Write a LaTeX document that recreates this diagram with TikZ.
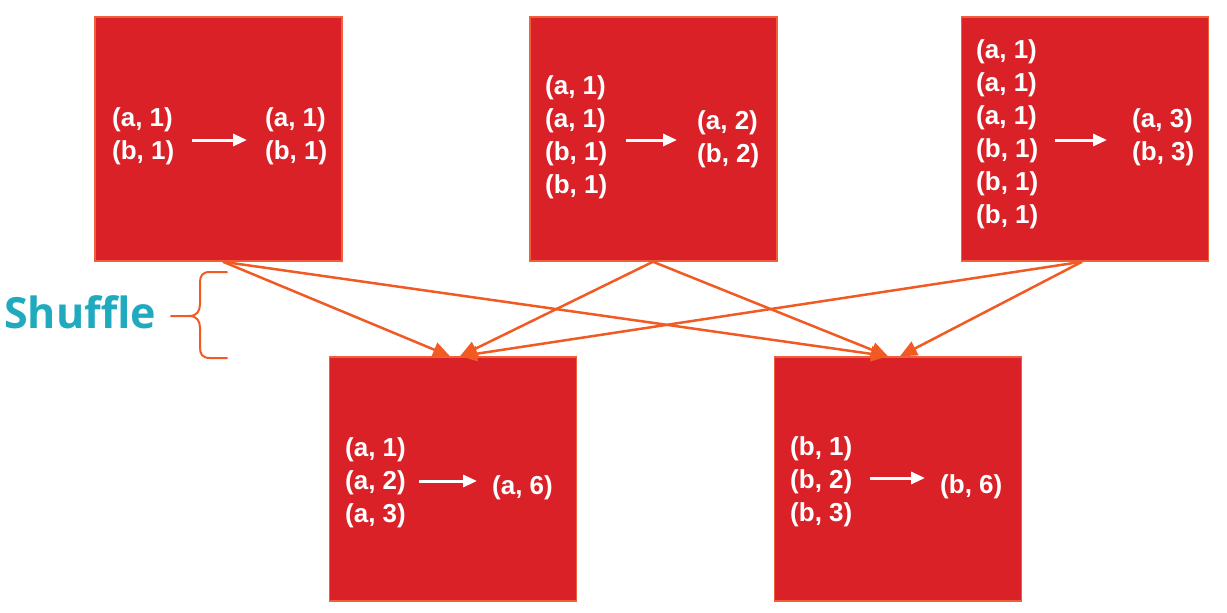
\documentclass[tikz,border=0pt]{standalone}
\usepackage{fontspec}
\setmainfont{Liberation Sans}
\newfontfamily\shufflefont{Open Sans}
\usetikzlibrary{arrows.meta,calc}
\definecolor{boxred}{RGB}{218,33,39}
\definecolor{boxedge}{RGB}{240,95,60}
\definecolor{connorange}{RGB}{242,90,36}
\definecolor{shuffleteal}{RGB}{32,170,190}
\tikzset{
  mapbox/.style={draw=boxedge, line width=1.5pt, fill=boxred, minimum width=247pt, minimum height=244pt, inner sep=0pt},
  pairs/.style={text=white, font=\fontsize{26}{33}\selectfont\bfseries, align=left, inner sep=0pt, anchor=west},
  warrow/.style={draw=white, line width=3pt, -{Triangle[length=14pt,width=12pt]}},
  conn/.style={draw=connorange, line width=2.5pt, -{Triangle[length=17pt,width=15pt]}},
  bracestyle/.style={draw=connorange, line width=2pt, line cap=round, line join=round}
}
\begin{document}
\begin{tikzpicture}[x=1pt,y=-1pt]
\useasboundingbox (0,0) rectangle (1227,613);
% boxes
\node[mapbox] (tl) at (218.5,139) {};
\node[mapbox] (tm) at (653.5,139) {};
\node[mapbox] (tr) at (1085,139) {};
\node[mapbox] (bl) at (453,479) {};
\node[mapbox] (br) at (898,479) {};
% texts
\node[pairs] (tlL) at (112,136) {(a, 1)\\(b, 1)};
\node[pairs] (tlR) at (265,136) {(a, 1)\\(b, 1)};
\node[pairs] (tmL) at (545,137.5) {(a, 1)\\(a, 1)\\(b, 1)\\(b, 1)};
\node[pairs] (tmR) at (697,139) {(a, 2)\\(b, 2)};
\node[pairs] (trL) at (976,134) {(a, 1)\\(a, 1)\\(a, 1)\\(b, 1)\\(b, 1)\\(b, 1)};
\node[pairs] (trR) at (1132,137) {(a, 3)\\(b, 3)};
\node[pairs] (blL) at (345,483) {(a, 1)\\(a, 2)\\(a, 3)};
\node[pairs] (blR) at (492,488) {(a, 6)};
\node[pairs] (brL) at (790,482) {(b, 1)\\(b, 2)\\(b, 3)};
\node[pairs] (brR) at (940,487) {(b, 6)};
% white arrows
\draw[warrow, shorten <=17pt, shorten >=18pt] ($(tlL.east)+(0,4)$) -- ($(tlL.east -| tlR.west)+(0,4)$);
\draw[warrow, shorten <=18pt, shorten >=20pt] ($(tmL.east)+(0,2.5)$) -- ($(tmL.east -| tmR.west)+(0,2.5)$);
\draw[warrow, shorten <=16pt, shorten >=25pt] ($(trL.east)+(0,6)$) -- ($(trL.east -| trR.west)+(0,6)$);
\draw[warrow, shorten <=13pt, shorten >=15pt] ($(blL.east)+(0,-2)$) -- ($(blL.east -| blR.west)+(0,-2)$);
\draw[warrow, shorten <=17pt, shorten >=15pt] ($(brL.east)+(0,-4)$) -- ($(brL.east -| brR.west)+(0,-4)$);
% shuffle connectors
\coordinate (tlS) at ($(tl.south)+(4.5,0)$);
\coordinate (tmS) at ($(tm.south)+(-0.5,0)$);
\coordinate (trS) at ($(tr.south)+(-3,0)$);
\coordinate (blA) at ($(bl.north)+(-3,0)$);
\coordinate (blB) at ($(bl.north)+(7,0)$);
\coordinate (brA) at ($(br.north)+(-10,0)$);
\coordinate (brB) at ($(br.north)+(2,0)$);
\draw[conn] (tlS) -- (blA);
\draw[conn] (tlS) -- (brA);
\draw[conn] (tmS) -- (blB);
\draw[conn] (tmS) -- (brA);
\draw[conn] (trS) -- (blB);
\draw[conn] (trS) -- (brB);
% brace and label
\node[text=shuffleteal, font=\fontsize{43}{43}\selectfont\shufflefont\bfseries, anchor=base west, inner sep=0pt] (shuffle) at (4,328) {Shuffle};
\draw[bracestyle] (227,272) -- (210,272) .. controls (202,272) and (200,276) .. (200,283) -- (200,304) .. controls (200,311) and (197,316) .. (189,316) -- (171,316);
\draw[bracestyle] (227,358) -- (210,358) .. controls (202,358) and (200,354) .. (200,347) -- (200,328) .. controls (200,321) and (197,316) .. (189,316);
\end{tikzpicture}
\end{document}
